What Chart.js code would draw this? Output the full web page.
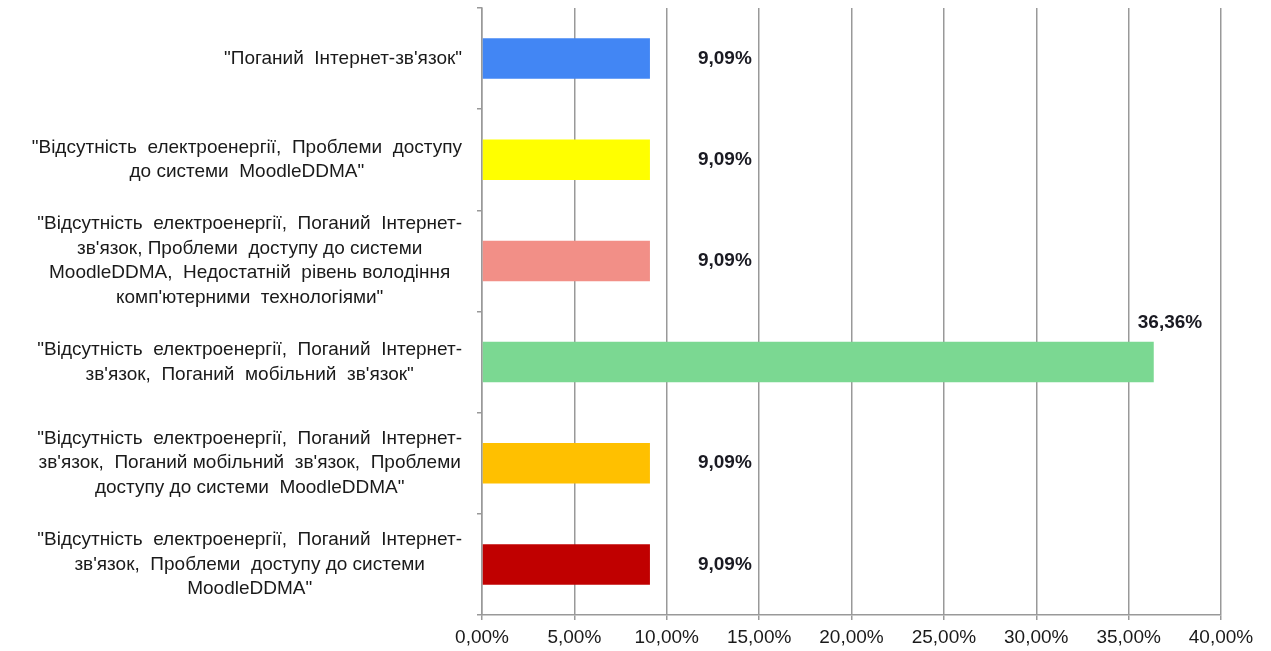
<!DOCTYPE html>
<html lang="uk">
<head>
  <meta charset="UTF-8" />
  <title>Проблеми</title>
  <script src="https://cdn.jsdelivr.net/npm/chart.js"></script>
  <style>
    body {
      margin: 0;
      background: #fff;
      font-family: "Liberation Sans", Arial, sans-serif;
    }
    .wrap {
      width: 1271px;
      height: 651px;
    }
  </style>
</head>
<body>
  <div class="wrap"><canvas id="chart"></canvas></div>

  <script>
    const categories = [
      ['"Поганий  Інтернет-зв\'язок"'],
      ['"Відсутність  електроенергії,  Проблеми  доступу', 'до системи  MoodleDDMA"'],
      ['"Відсутність  електроенергії,  Поганий  Інтернет-', 'зв\'язок, Проблеми  доступу до системи', 'MoodleDDMA,  Недостатній  рівень володіння', 'комп\'ютерними  технологіями"'],
      ['"Відсутність  електроенергії,  Поганий  Інтернет-', 'зв\'язок,  Поганий  мобільний  зв\'язок"'],
      ['"Відсутність  електроенергії,  Поганий  Інтернет-', 'зв\'язок,  Поганий мобільний  зв\'язок,  Проблеми', 'доступу до системи  MoodleDDMA"'],
      ['"Відсутність  електроенергії,  Поганий  Інтернет-', 'зв\'язок,  Проблеми  доступу до системи', 'MoodleDDMA"']
    ];
    const values = [9.09, 9.09, 9.09, 36.36, 9.09, 9.09];
    const barColors = ['#4286f4', '#ffff00', '#f28f87', '#7bd892', '#ffc000', '#c00000'];
    const xTicks = [0, 5, 10, 15, 20, 25, 30, 35, 40];

    const fmt = v => v.toFixed(2).replace('.', ',') + '%';

    // draws the multi-line category labels: block right aligned, lines centred
    const catLabels = {
      id: 'catLabels',
      afterDraw(chart) {
        const ctx = chart.ctx;
        const y = chart.scales.y;
        const right = chart.chartArea.left - 20;
        ctx.save();
        ctx.font = '19px "Liberation Sans", Arial, sans-serif';
        ctx.fillStyle = '#1a1a1a';
        ctx.textAlign = 'center';
        ctx.textBaseline = 'middle';
        const lh = 24.5;
        categories.forEach((lines, i) => {
          const cy = y.getPixelForValue(i);
          const w = Math.max(...lines.map(l => ctx.measureText(l).width));
          const cx = right - w / 2;
          const y0 = cy - (lines.length - 1) * lh / 2;
          lines.forEach((l, k) => ctx.fillText(l, cx, y0 + k * lh));
        });
        ctx.restore();
      }
    };

    const valueLabels = {
      id: 'valueLabels',
      afterDatasetsDraw(chart) {
        const ctx = chart.ctx;
        const meta = chart.getDatasetMeta(0);
        ctx.save();
        ctx.font = 'bold 19px "Liberation Sans", Arial, sans-serif';
        ctx.fillStyle = '#1a1a22';
        ctx.textAlign = 'left';
        ctx.textBaseline = 'middle';
        meta.data.forEach((bar, i) => {
          const v = values[i];
          if (v > 30) {
            ctx.fillText(fmt(v), bar.x - 16, bar.y - 39);
          } else {
            ctx.fillText(fmt(v), bar.x + 48, bar.y);
          }
        });
        ctx.restore();
      }
    };

    new Chart(document.getElementById('chart'), {
      type: 'bar',
      data: {
        labels: categories.map(c => c.join(' ')),
        datasets: [{
          data: values,
          backgroundColor: barColors,
          borderWidth: 0,
          barPercentage: 0.8,
          categoryPercentage: 0.5
        }]
      },
      options: {
        indexAxis: 'y',
        responsive: true,
        maintainAspectRatio: false,
        animation: false,
        layout: {
          padding: { left: 477, top: 8, right: 50, bottom: 0 }
        },
        scales: {
          x: {
            min: 0,
            max: 40,
            afterBuildTicks: axis => {
              axis.ticks = xTicks.map(v => ({ value: v }));
            },
            afterFit: axis => {
              axis.height = 36;
            },
            grid: {
              color: '#999',
              lineWidth: 1.5,
              tickLength: 5
            },
            border: { color: '#999', width: 1.5 },
            ticks: {
              color: '#1a1a1a',
              font: { size: 19, family: '"Liberation Sans", Arial, sans-serif' },
              padding: 6,
              maxRotation: 0,
              callback: v => fmt(v)
            }
          },
          y: {
            grid: {
              display: true,
              drawOnChartArea: false,
              color: '#999',
              lineWidth: 1.5,
              tickLength: 5,
              offset: true
            },
            border: { color: '#999', width: 1.5 },
            ticks: { display: false }
          }
        },
        plugins: {
          legend: { display: false },
          tooltip: { enabled: false }
        }
      },
      plugins: [catLabels, valueLabels]
    });
  </script>
</body>
</html>
